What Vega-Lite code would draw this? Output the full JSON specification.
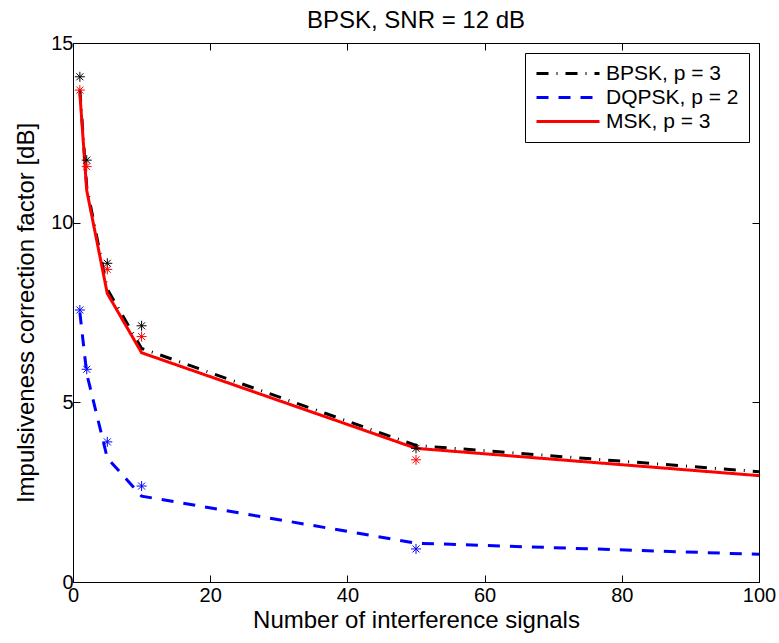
{
  "$schema": "https://vega.github.io/schema/vega-lite/v6.json",
  "width": 686,
  "height": 539,
  "autosize": {"type": "none"},
  "padding": {"left": 73, "top": 43, "right": 20, "bottom": 61},
  "background": "white",
  "config": {
    "view": {"stroke": "black", "strokeWidth": 1},
    "font": "Liberation Sans",
    "axis": {
      "grid": false,
      "domain": false,
      "tickColor": "black",
      "tickSize": -7,
      "tickWidth": 1,
      "labelFlush": false,
      "labelOverlap": false,
      "labelColor": "black",
      "titleColor": "black",
      "labelFont": "Liberation Sans",
      "titleFont": "Liberation Sans",
      "labelFontSize": 20,
      "titleFontSize": 24,
      "titleFontWeight": "normal"
    }
  },
  "title": {
    "text": "BPSK, SNR = 12 dB",
    "font": "Liberation Sans",
    "fontSize": 24,
    "fontWeight": "normal",
    "color": "black",
    "baseline": "alphabetic",
    "offset": 2,
    "dy": 21,
    "anchor": "middle"
  },
  "datasets": {
    "theory": [
      {"series": "BPSK, p = 3", "n": 1, "factor": 13.7},
      {"series": "BPSK, p = 3", "n": 2, "factor": 11.0},
      {"series": "BPSK, p = 3", "n": 5, "factor": 8.15},
      {"series": "BPSK, p = 3", "n": 10, "factor": 6.5},
      {"series": "BPSK, p = 3", "n": 50, "factor": 3.8},
      {"series": "BPSK, p = 3", "n": 100, "factor": 3.07},
      {"series": "DQPSK, p = 2", "n": 1, "factor": 7.5},
      {"series": "DQPSK, p = 2", "n": 2, "factor": 5.8},
      {"series": "DQPSK, p = 2", "n": 5, "factor": 3.45},
      {"series": "DQPSK, p = 2", "n": 10, "factor": 2.39},
      {"series": "DQPSK, p = 2", "n": 50, "factor": 1.08},
      {"series": "DQPSK, p = 2", "n": 100, "factor": 0.77},
      {"series": "MSK, p = 3", "n": 1, "factor": 13.6},
      {"series": "MSK, p = 3", "n": 2, "factor": 10.9},
      {"series": "MSK, p = 3", "n": 5, "factor": 8.03},
      {"series": "MSK, p = 3", "n": 10, "factor": 6.38},
      {"series": "MSK, p = 3", "n": 50, "factor": 3.72},
      {"series": "MSK, p = 3", "n": 100, "factor": 2.96}
    ],
    "sim": [
      {"series": "BPSK, p = 3", "n": 1, "factor": 14.06},
      {"series": "BPSK, p = 3", "n": 2, "factor": 11.74},
      {"series": "BPSK, p = 3", "n": 5, "factor": 8.87},
      {"series": "BPSK, p = 3", "n": 10, "factor": 7.13},
      {"series": "BPSK, p = 3", "n": 50, "factor": 3.72},
      {"series": "DQPSK, p = 2", "n": 1, "factor": 7.57},
      {"series": "DQPSK, p = 2", "n": 2, "factor": 5.92},
      {"series": "DQPSK, p = 2", "n": 5, "factor": 3.9},
      {"series": "DQPSK, p = 2", "n": 10, "factor": 2.67},
      {"series": "DQPSK, p = 2", "n": 50, "factor": 0.92},
      {"series": "MSK, p = 3", "n": 1, "factor": 13.69},
      {"series": "MSK, p = 3", "n": 2, "factor": 11.56},
      {"series": "MSK, p = 3", "n": 5, "factor": 8.7},
      {"series": "MSK, p = 3", "n": 10, "factor": 6.83},
      {"series": "MSK, p = 3", "n": 50, "factor": 3.4}
    ]
  },
  "layer": [
    {
      "data": {"name": "theory"},
      "mark": {"type": "line", "strokeWidth": 3, "clip": true},
      "encoding": {
        "x": {
          "field": "n", "type": "quantitative",
          "scale": {"domain": [0, 100], "nice": false},
          "axis": {"orient": "bottom", "values": [0, 20, 40, 60, 80, 100], "title": "Number of interference signals", "labelPadding": 10, "titlePadding": 3}
        },
        "y": {
          "field": "factor", "type": "quantitative",
          "scale": {"domain": [0, 15], "nice": false},
          "axis": {"orient": "left", "values": [0, 5, 10, 15], "title": "Impulsiveness correction factor [dB]", "labelPadding": 7, "titlePadding": 12}
        },
        "color": {
          "field": "series", "type": "nominal",
          "scale": {"domain": ["BPSK, p = 3", "DQPSK, p = 2", "MSK, p = 3"], "range": ["#000000", "#0000ff", "#ff0000"]},
          "legend": {"title": null, "orient": "top-right", "offset": 10, "padding": 10, "strokeColor": "black", "fillColor": "white", "cornerRadius": 0, "symbolType": "M-1,0L6,0", "symbolSize": 324, "symbolStrokeWidth": 3, "labelFont": "Liberation Sans", "labelFontSize": 21, "labelColor": "black", "labelOffset": 50, "rowPadding": 2, "labelLimit": 400}
        },
        "strokeDash": {
          "field": "series", "type": "nominal",
          "scale": {"domain": ["BPSK, p = 3", "DQPSK, p = 2", "MSK, p = 3"], "range": [[12, 8, 1, 8], [12, 10], [1, 0]]},
          "legend": {"title": null, "orient": "top-right", "offset": 10, "padding": 10, "strokeColor": "black", "fillColor": "white", "cornerRadius": 0, "symbolType": "M-1,0L6,0", "symbolSize": 324, "symbolStrokeWidth": 3, "labelFont": "Liberation Sans", "labelFontSize": 21, "labelColor": "black", "labelOffset": 50, "rowPadding": 2, "labelLimit": 400}
        }
      }
    },
    {
      "data": {"name": "sim"},
      "mark": {"type": "point", "shape": "M-1,0L1,0M0,-1L0,1M-0.7,-0.7L0.7,0.7M-0.7,0.7L0.7,-0.7", "size": 100, "filled": false, "strokeWidth": 1, "opacity": 1},
      "encoding": {
        "x": {"field": "n", "type": "quantitative", "axis": {"orient": "top", "values": [0, 20, 40, 60, 80, 100], "labels": false, "title": null}},
        "y": {"field": "factor", "type": "quantitative", "axis": {"orient": "right", "values": [0, 5, 10, 15], "labels": false, "title": null}},
        "stroke": {
          "field": "series", "type": "nominal",
          "scale": {"domain": ["BPSK, p = 3", "DQPSK, p = 2", "MSK, p = 3"], "range": ["#000000", "#0000ff", "#ff0000"]},
          "legend": null
        }
      }
    }
  ],
  "resolve": {"axis": {"x": "independent", "y": "independent"}}
}
